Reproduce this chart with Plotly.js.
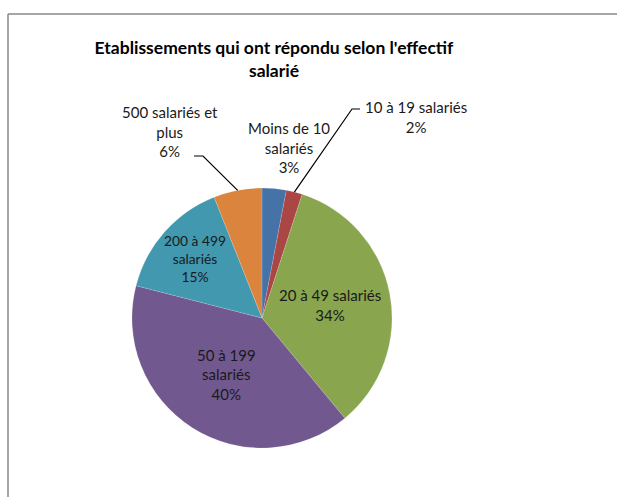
<!DOCTYPE html>
<html>
<head>
<meta charset="utf-8">
<script src="https://cdn.plot.ly/plotly-3.0.1.min.js"></script>
<style>html,body{margin:0;padding:0;background:#fff;}#chart{width:617px;height:497px;}</style>
</head>
<body>
<div id="chart"></div>
<script>
const categories = ["Moins de 10 salariés", "10 à 19 salariés", "20 à 49 salariés", "50 à 199 salariés", "200 à 499 salariés", "500 salariés et plus"];
const labelTexts = ["Moins de 10<br>salariés<br>3%", "10 à 19 salariés<br>2%", "20 à 49 salariés<br>34%", "50 à 199<br>salariés<br>40%", "200 à 499<br>salariés<br>15%", "500 salariés et<br>plus<br>6%"];
const values = [3, 2, 34, 40, 15, 6];
const colors = ["#4572a7", "#aa4643", "#89a54e", "#71588f", "#4198af", "#db843d"];
const insideFlags = [false, false, true, true, true, false];

const W = 617, H = 497;
const cx = 262, cy = 318, r = 130;
const FONT = "Lato, 'Open Sans', sans-serif";
const px = x => x / W;
const py = y => 1 - y / H;

// mid-angle outer point of each slice (pixel coords), derived from values
const total = values.reduce((a, b) => a + b, 0);
let cum = 0;
const tips = values.map(v => {
  const mid = (cum + v / 2) / total * 2 * Math.PI;
  cum += v;
  return [cx + r * Math.sin(mid), cy - r * Math.cos(mid)];
});

const trace = {
  type: "pie",
  labels: categories,
  values: values,
  text: labelTexts.map((t, i) => insideFlags[i] ? t : ""),
  textinfo: "text",
  hoverinfo: "label+percent",
  sort: false,
  direction: "clockwise",
  rotation: 0,
  marker: {colors: colors, line: {color: "rgba(255,255,255,0.3)", width: 0.5}},
  textposition: insideFlags.map(f => f ? "inside" : "none"),
  insidetextorientation: "horizontal",
  textfont: {family: FONT, size: 15, color: "#1a1a1a"},
  domain: {x: [px(cx - r), px(cx + r)], y: [py(cy + r), py(cy - r)]},
  showlegend: false
};

const annFont = {family: FONT, size: 15, color: "#1a1a1a"};
const annotations = [
  {text: labelTexts[5], x: px(170), y: py(131), xref: "paper", yref: "paper", showarrow: false, font: annFont, xanchor: "center", yanchor: "middle", align: "center"},
  {text: labelTexts[0], x: px(289), y: py(147), xref: "paper", yref: "paper", showarrow: false, font: annFont, xanchor: "center", yanchor: "middle", align: "center"},
  {text: labelTexts[1], x: px(416), y: py(117), xref: "paper", yref: "paper", showarrow: false, font: annFont, xanchor: "center", yanchor: "middle", align: "center"}
];

const leader = (pts) => ({
  type: "path", xref: "paper", yref: "paper",
  path: pts.map((p, i) => (i ? "L" : "M") + px(p[0]) + "," + py(p[1])).join(" "),
  line: {color: "#000000", width: 1.2}
});

const layout = {
  width: W, height: H,
  margin: {l: 0, r: 0, t: 0, b: 0},
  paper_bgcolor: "#ffffff",
  title: {
    text: "<b>Etablissements qui ont répondu selon l'effectif<br>salarié</b>",
    font: {family: FONT, size: 17.5, color: "#000000"},
    x: px(274), xanchor: "center",
    y: py(54), yanchor: "top"
  },
  annotations: annotations,
  shapes: [
    {type: "line", xref: "paper", yref: "paper", x0: px(8), x1: 1, y0: py(14), y1: py(14), line: {color: "#888888", width: 1.5}},
    {type: "line", xref: "paper", yref: "paper", x0: px(8), x1: px(8), y0: 0, y1: py(14), line: {color: "#888888", width: 1.5}},
    leader([[194, 156], [203, 156], tips[5]]),
    leader([[360, 109], [352, 109], tips[1]])
  ]
};

Plotly.newPlot("chart", [trace], layout, {displayModeBar: false, staticPlot: true});
</script>
</body>
</html>
